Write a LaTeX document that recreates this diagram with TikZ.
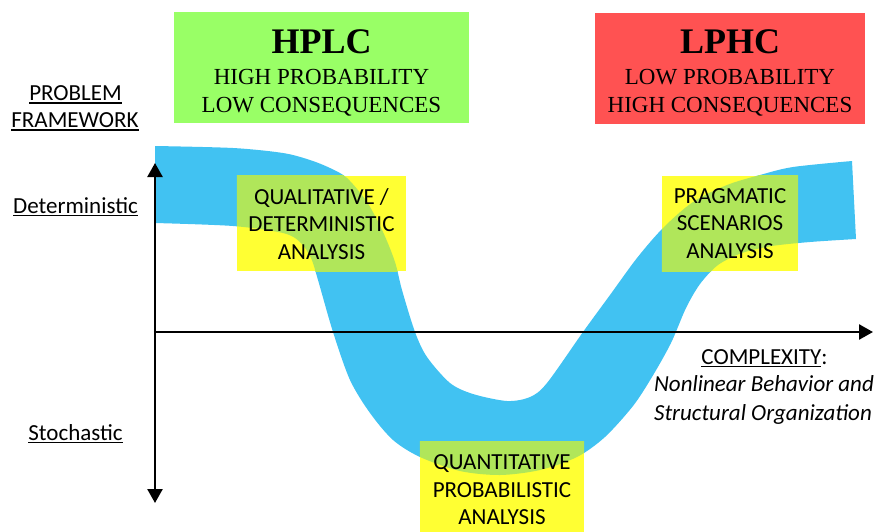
\documentclass[tikz,border=0pt]{standalone}
\usepackage{fontspec}
\setmainfont{Liberation Serif}
\newfontfamily\calfont{Carlito}
\usetikzlibrary{arrows.meta}

\definecolor{bandblue}{RGB}{65,194,242}
\definecolor{hpgreen}{RGB}{153,255,102}
\definecolor{lpred}{RGB}{255,82,82}
\definecolor{boxyellow}{RGB}{255,255,51}
\definecolor{mixgreen}{RGB}{176,230,90}

% underlined label with a rule of fixed weight
\newcommand\ulabel[1]{\setbox0=\hbox{#1}\rlap{\rule[-3pt]{\wd0}{1.4pt}}\box0}

\tikzset{
  headbox/.style={inner sep=0pt, minimum width=#1, minimum height=111pt},
  headtitle/.style={anchor=base, inner sep=0pt, font=\fontsize{36}{36}\selectfont\bfseries},
  headline/.style={anchor=base, inner sep=0pt, font=\fontsize{23}{27}\selectfont},
  notebox/.style={fill=boxyellow, inner sep=0pt},
  notetext/.style={inner sep=0pt, align=center, font=\calfont\fontsize{23}{27.4}\selectfont},
  sidelabel/.style={anchor=base, inner sep=0pt, font=\calfont\fontsize{23}{27}\selectfont},
  axis/.style={line width=2.5pt, {Triangle[width=15pt,length=14pt]}-{Triangle[width=15pt,length=14pt]}},
  axisone/.style={line width=2.5pt, -{Triangle[width=15pt,length=14pt]}}
}

\begin{document}
\begin{tikzpicture}[x=1pt, y=-1pt]
\useasboundingbox (0,0) rectangle (879,531);

% the blue ribbon
\path[save path=\bandp]
  plot[smooth] coordinates {(155,146) (233,148) (283,153) (310,160) (330,168)
    (347,178) (367,202) (383,232) (395,262) (402,290) (415,332) (427,357)
    (450,383) (473,394) (507,401) (530,397) (547,383) (583,332) (610,295)
    (637,258) (663,228) (693,202) (727,185) (760,175) (793,167) (852,161)}
  -- plot[smooth] coordinates {(856,239) (810,242) (772,246) (742,253)
    (718,265) (700,284) (686,308) (671,343) (652,377) (633,406) (605,437)
    (577,457) (540,470) (500,475) (460,471) (420,457) (393,440) (370,413)
    (350,380) (333,332) (318,280) (311,258) (300,242) (283,233) (233,226)
    (155,223)}
  -- cycle;
\fill[bandblue, use path=\bandp];

% header boxes
\node[headbox=295pt, fill=hpgreen] (hplcbox) at (321.5,67.5) {};
\node[headtitle] (hplc) at (321.5,53) {HPLC};
\node[headline] (hplca) at (321.5,84.6) {HIGH PROBABILITY};
\node[headline] (hplcb) at (321.5,112) {LOW CONSEQUENCES};

\node[headbox=270pt, fill=lpred] (lphcbox) at (730,68) {};
\node[headtitle] (lphc) at (730,53) {LPHC};
\node[headline] (lphca) at (730,84.6) {LOW PROBABILITY};
\node[headline] (lphcb) at (730,112) {HIGH CONSEQUENCES};

% analysis boxes over the ribbon
\node[notebox, minimum width=169pt, minimum height=95pt] (qualbox) at (321.5,223.5) {};
\node[notebox, minimum width=136pt, minimum height=95pt] (pragbox) at (730,223.5) {};
\node[notebox, minimum width=164pt, minimum height=97pt] (quanbox) at (502,490.5) {};
\foreach \b in {qualbox, pragbox, quanbox}{
  \begin{scope}
    \clip (\b.south west) rectangle (\b.north east);
    \fill[mixgreen, use path=\bandp];
  \end{scope}
}
\node[notetext] (qualtext) at (321.5,224) {QUALITATIVE /\\DETERMINISTIC\\ANALYSIS};
\node[notetext] (pragtext) at (730,223.5) {PRAGMATIC\\SCENARIOS\\ANALYSIS};
\node[notetext] (quantext) at (502,490) {QUANTITATIVE\\PROBABILISTIC\\ANALYSIS};

% axes
\coordinate (ytop) at (155,163);
\coordinate (ybot) at (155,503);
\coordinate (xleft) at (153.8,332);
\coordinate (xright) at (873,332);
\draw[axis] (ybot) -- (ytop);
\draw[axisone] (xleft) -- (xright);

% axis labels
\node[sidelabel] (prob) at (75.5,100.7) {\ulabel{PROBLEM}};
\node[sidelabel] (frame) at (75,127.5) {\ulabel{FRAMEWORK}};
\node[sidelabel] (det) at (75.5,213.3) {\ulabel{Deterministic}};
\node[sidelabel] (sto) at (75.5,440) {\ulabel{Stochastic}};
\node[sidelabel] (cplx) at (764.5,364) {\ulabel{COMPLEXITY}:};
\node[sidelabel, font=\calfont\itshape\fontsize{23}{27}\selectfont] (cplxa) at (764,391.7) {Nonlinear Behavior and};
\node[sidelabel, font=\calfont\itshape\fontsize{23}{27}\selectfont] (cplxb) at (763,420.7) {Structural Organization};
\end{tikzpicture}
\end{document}
